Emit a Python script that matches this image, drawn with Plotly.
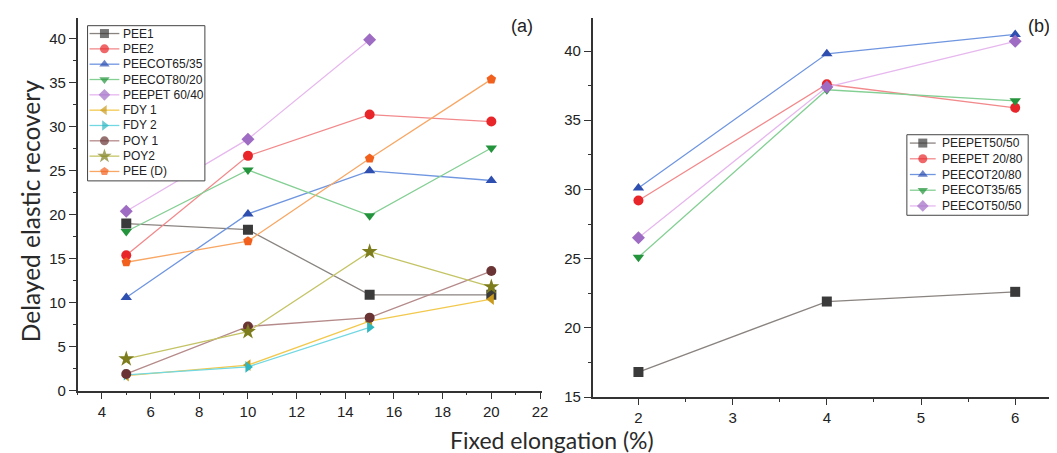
import plotly.graph_objects as go

# ---------- Panel (a) data ----------
x_a = [5, 10, 15, 20]
pee1 = [19.0, 18.3, 10.9, 10.9]
pee2 = [15.4, 26.7, 31.4, 30.6]
peecot65_35 = [10.6, 20.1, 25.0, 23.9]
peecot80_20 = [18.1, 25.1, 19.9, 27.6]
peepet60_40 = [20.4, 28.6, 39.9]
fdy1 = [1.7, 2.9, 7.9, 10.4]
fdy2 = [1.8, 2.7, 7.2]
poy1 = [1.9, 7.3, 8.3, 13.6]
poy2 = [3.6, 6.7, 15.8, 11.8]
pee_d = [14.6, 17.0, 26.4, 35.4]

names_a = ["PEE1", "PEE2", "PEECOT65/35", "PEECOT80/20", "PEEPET 60/40",
           "FDY 1", "FDY 2", "POY 1", "POY2", "PEE (D)"]
values_a = [pee1, pee2, peecot65_35, peecot80_20, peepet60_40,
            fdy1, fdy2, poy1, poy2, pee_d]

# ---------- Panel (b) data ----------
x_b = [2, 4, 6]
peepet50_50 = [16.8, 21.9, 22.6]
peepet20_80 = [29.2, 37.6, 35.9]
peecot20_80 = [30.1, 39.8, 41.2]
peecot35_65 = [25.1, 37.2, 36.4]
peecot50_50 = [26.5, 37.4, 40.7]

names_b = ["PEEPET50/50", "PEEPET 20/80", "PEECOT20/80", "PEECOT35/65", "PEECOT50/50"]
values_b = [peepet50_50, peepet20_80, peecot20_80, peecot35_65, peecot50_50]

# ---------- styles ----------
style_a = [
    ("square", "#3a3a3a", "#8a8480"),
    ("circle", "#e8262a", "#f28a8c"),
    ("triangle-up", "#2f4fb0", "#7096e0"),
    ("triangle-down", "#23943c", "#84cf93"),
    ("diamond", "#9f6cc4", "#e6b8ee"),
    ("triangle-left", "#c99a1c", "#f2c94e"),
    ("triangle-right", "#2fb6bf", "#72d8e2"),
    ("circle", "#6a3434", "#b58a8a"),
    ("star", "#7d7d1e", "#c4c466"),
    ("pentagon", "#f2601e", "#f8a765"),
]
style_b = style_a[:5]

W, H = 1057, 453
fig = go.Figure()


def msize(sym):
    return 12 if sym == "star" else 10


for name, vals, (sym, mc, lc) in zip(names_a, values_a, style_a):
    fig.add_trace(go.Scatter(
        x=x_a[:len(vals)], y=vals, name=name, mode="lines+markers",
        line=dict(color=lc, width=1.3),
        marker=dict(symbol=sym, color=mc, size=msize(sym), line=dict(width=0)),
        xaxis="x", yaxis="y", showlegend=False,
    ))

for name, vals, (sym, mc, lc) in zip(names_b, values_b, style_b):
    fig.add_trace(go.Scatter(
        x=x_b, y=vals, name=name, mode="lines+markers",
        line=dict(color=lc, width=1.3),
        marker=dict(symbol=sym, color=mc, size=msize(sym), line=dict(width=0)),
        xaxis="x2", yaxis="y2", showlegend=False,
    ))

# ---------- compact legends (Origin style) drawn on hidden pixel-space axes ----------
legfont = dict(family="Liberation Sans, Arial", size=12, color="#222")


def add_legend(names, styles, xa, ya, box, first_y, step, line_x0, line_x1, text_x):
    x0, y0, x1, y1 = box
    # box lives in the legend subplot's lower layer: above the data panels, below the samples
    fig.add_shape(type="rect", xref=xa, yref=ya, x0=x0, x1=x1, y0=y0, y1=y1,
                  line=dict(color="#444", width=1), fillcolor="white", layer="below")
    for i, (name, (sym, mc, lc)) in enumerate(zip(names, styles)):
        yy = first_y + i * step
        xm = (line_x0 + line_x1) / 2
        fig.add_trace(go.Scatter(
            x=[line_x0, xm, line_x1], y=[yy, yy, yy], mode="lines+markers",
            line=dict(color=lc, width=1.3),
            marker=dict(symbol=sym, color=mc, size=[0, msize(sym) - 1, 0], line=dict(width=0)),
            xaxis=xa, yaxis=ya, showlegend=False, hoverinfo="skip",
        ))
        fig.add_annotation(text=name, x=text_x, y=yy, xref=xa, yref=ya,
                           xanchor="left", yanchor="middle", showarrow=False, font=legfont)


common_hidden = dict(visible=False, fixedrange=True, showgrid=False, zeroline=False)

add_legend(names_a, style_a, "x3", "y3", (80, 18, 198, 176), 26.0, 15.6, 82, 112, 114)
add_legend(names_b, style_b, "x4", "y4", (904, 129, 1026, 211), 137.5, 16.0, 907, 933, 937)

tickfont = dict(family="Liberation Sans, Arial", size=15, color="#222")
axcommon = dict(showline=True, linecolor="#333", linewidth=1.5, ticks="outside",
                tickcolor="#333", tickwidth=1.3, showgrid=False,
                zeroline=False, mirror=False, tickfont=tickfont)

fig.update_layout(
    width=W, height=H, margin=dict(l=0, r=0, t=0, b=0),
    paper_bgcolor="white", plot_bgcolor="rgba(0,0,0,0)",
    showlegend=False,
    xaxis=dict(domain=[70 / W, 537 / W], range=[3, 22.08], dtick=2, tick0=0, ticklen=7,
               minor=dict(dtick=1, ticks="outside", ticklen=3, tickcolor="#333"),
               anchor="y", **axcommon),
    yaxis=dict(domain=[1 - 389.5 / H, 1 - 10 / H], range=[0, 42.4], dtick=5, tick0=0, ticklen=7,
               minor=dict(dtick=2.5, ticks="outside", ticklen=3, tickcolor="#333"),
               anchor="x", **axcommon),
    xaxis2=dict(domain=[588 / W, 1.0], range=[1.514, 6.465], dtick=1, tick0=0, ticklen=6,
                minor=dict(dtick=0.5, ticks="outside", ticklen=3, tickcolor="#333"),
                anchor="y2", **axcommon),
    yaxis2=dict(domain=[1 - 396 / H, 1 - 10 / H], range=[15, 42.4], dtick=5, tick0=0, ticklen=7,
                minor=dict(dtick=2.5, ticks="outside", ticklen=3, tickcolor="#333"),
                anchor="x2", **axcommon),
    xaxis3=dict(domain=[0, 1], range=[0, W], anchor="y3", **common_hidden),
    yaxis3=dict(domain=[0, 1], range=[H, 0], anchor="x3", **common_hidden),
    xaxis4=dict(domain=[0, 1], range=[0, W], anchor="y4", **common_hidden),
    yaxis4=dict(domain=[0, 1], range=[H, 0], anchor="x4", **common_hidden),
)

fig.add_annotation(text="(a)", x=517 / W, y=1 - 18 / H, xref="paper", yref="paper",
                   xanchor="center", yanchor="middle",
                   showarrow=False, font=dict(family="Liberation Sans, Arial", size=18, color="#222"))
fig.add_annotation(text="(b)", x=1037 / W, y=1 - 18 / H, xref="paper", yref="paper",
                   xanchor="center", yanchor="middle",
                   showarrow=False, font=dict(family="Liberation Sans, Arial", size=18, color="#222"))
fig.add_annotation(text="Delayed elastic recovery", x=22 / W, y=1 - 207 / H, xref="paper", yref="paper",
                   xanchor="center", yanchor="middle",
                   textangle=-90, showarrow=False, font=dict(family="Lato", size=24.5, color="#2a2a2a"))
fig.add_annotation(text="Fixed elongation (%)", x=547 / W, y=1 - 440 / H, xref="paper", yref="paper",
                   xanchor="center", yanchor="middle",
                   showarrow=False, font=dict(family="Lato", size=23, color="#2a2a2a"))

fig.write_html("out.html")
